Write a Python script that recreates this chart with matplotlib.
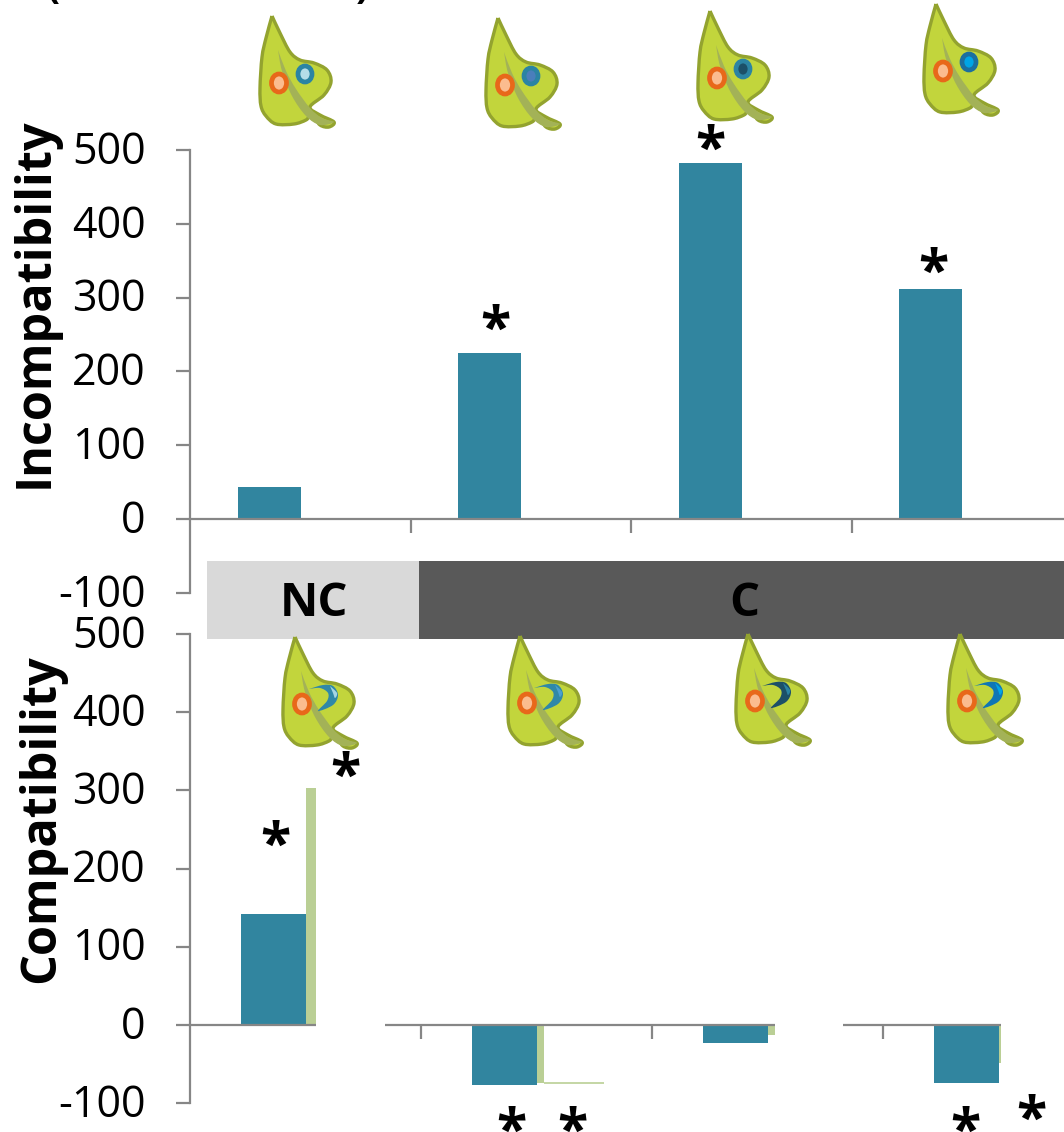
import matplotlib

matplotlib.use("Agg")
import matplotlib.pyplot as plt
from matplotlib.patches import Ellipse, PathPatch, Rectangle
from matplotlib.path import Path as MplPath
from matplotlib.transforms import ScaledTranslation

WIDTH = 1064
HEIGHT = 1132
DPI = 100

Y_TICKS = [-100, 0, 100, 200, 300, 400, 500]
INCOMPATIBILITY = [43, 225, 482, 312]
COMPATIBILITY_BLUE = [142, -77, -23, -75]
COMPATIBILITY_GREEN = [303, -75, -13, -49]
COMPATIBILITY_WHITE = [4, -75, 4, 4]
BAND_LABELS = ["NC", "C"]

TEAL = "#31859f"
PALE_GREEN = "#bacf95"
AXIS_GREY = "#868686"
FONT = "Open Sans"
TICK_SIZE = 31
LABEL_SIZE = 35

plt.rcParams["axes.unicode_minus"] = False


def px_axes(fig, left, top, right, bottom):
    return fig.add_axes(
        [left / WIDTH, 1 - bottom / HEIGHT, (right - left) / WIDTH, (bottom - top) / HEIGHT]
    )


def style_axes(fig, ax, cat_px):
    ax.set_xlim(0, (WIDTH - 190) / cat_px)
    ax.set_ylim(-100, 500)
    ax.set_yticks(Y_TICKS)
    ax.set_xticks([1, 2, 3])
    ax.set_xticklabels([])
    ax.patch.set_alpha(0)
    for side in ("top", "right"):
        ax.spines[side].set_visible(False)
    ax.spines["bottom"].set_position(("data", 0))
    for side in ("left", "bottom"):
        ax.spines[side].set_color(AXIS_GREY)
        ax.spines[side].set_linewidth(1.6)
    ax.tick_params(axis="y", length=10, width=1.6, color=AXIS_GREY, labelsize=TICK_SIZE, pad=22)
    ax.tick_params(axis="x", length=10, width=1.6, color=AXIS_GREY, direction="out")
    # labels sit a little above the tick marks
    nudge = ScaledTranslation(0, 3 / DPI, fig.dpi_scale_trans)
    for label in ax.get_yticklabels():
        label.set_fontfamily(FONT)
        label.set_transform(label.get_transform() + nudge)


def smooth_path(points):
    # catmull-rom through the points, ends stay sharp
    verts = [points[0]]
    codes = [MplPath.MOVETO]
    n = len(points)
    for i in range(n - 1):
        p0 = points[max(i - 1, 0)]
        p1 = points[i]
        p2 = points[i + 1]
        p3 = points[min(i + 2, n - 1)]
        verts.append((p1[0] + (p2[0] - p0[0]) / 6, p1[1] + (p2[1] - p0[1]) / 6))
        verts.append((p2[0] - (p3[0] - p1[0]) / 6, p2[1] - (p3[1] - p1[1]) / 6))
        verts.append(p2)
        codes += [MplPath.CURVE4] * 3
    return MplPath(verts, codes)


def shift(rel, tip_x, tip_y):
    return [(tip_x + x, tip_y + y) for x, y in rel]


LEAF_OUTLINE = [
    (0, 0), (-6, 22), (-10, 41), (-12, 72), (-11, 90), (-6, 100), (4, 108),
    (22, 108), (34, 104), (40, 99), (48, 109), (57, 111), (62, 106),
    (48, 99), (38, 91), (52, 79), (59, 66), (55, 54), (42, 47), (28, 44),
    (18, 36), (8, 17), (0, 0),
]
LEAF_VEIN = [
    (6, 34), (14, 55), (24, 73), (38, 92), (50, 102), (62, 106),
    (48, 109), (34, 100), (20, 80), (10, 55), (6, 34),
]
CRESCENT_OUTER = [
    (14, 52), (28, 48), (38, 49), (43, 58), (38, 68), (23, 74),
    (32, 64), (33, 56), (25, 51), (14, 52),
]
CRESCENT_INNER = [(35, 49), (42, 56), (40, 61), (38, 56), (35, 49)]


def draw_leaf(ov, tip_x, tip_y):
    ov.add_patch(PathPatch(smooth_path(shift(LEAF_OUTLINE, tip_x, tip_y)),
                           fc="#c2d53c", ec="#93a32f", lw=2.4, joinstyle="round"))
    ov.add_patch(PathPatch(smooth_path(shift(LEAF_VEIN, tip_x, tip_y)), fc="#a3b257", ec="none"))
    ov.add_patch(Ellipse((tip_x + 7, tip_y + 67), 15, 18, fc="#fbbc8f", ec="#e8681a", lw=3.4))


def main():
    fig = plt.figure(figsize=(WIDTH / DPI, HEIGHT / DPI), dpi=DPI, facecolor="white")

    # upper panel
    top_cat = 220.6
    ax_top = px_axes(fig, 190, 150, WIDTH, 593)
    style_axes(fig, ax_top, top_cat)
    for i, value in enumerate(INCOMPATIBILITY):
        ax_top.bar(i + 47.5 / top_cat, value, 63 / top_cat, align="edge", color=TEAL, zorder=1)
    ax_top.set_ylabel("Incompatibility", fontsize=LABEL_SIZE, fontweight="bold", fontfamily=FONT)
    ax_top.yaxis.set_label_coords(-0.149, 0.655)

    # lower panel
    low_cat = 231.0
    ax_low = px_axes(fig, 190, 634, WIDTH, 1103)
    style_axes(fig, ax_low, low_cat)
    green_w = [10, 7, 7, 2]
    white_w = [69, 60, 68, 80]
    for i in range(4):
        left = i + 51 / low_cat
        blue_w = 65 / low_cat
        ax_low.bar(left, COMPATIBILITY_BLUE[i], blue_w, align="edge", color=TEAL, zorder=1)
        left += blue_w
        ax_low.bar(left, COMPATIBILITY_GREEN[i], green_w[i] / low_cat, align="edge", color=PALE_GREEN, zorder=1)
        left += green_w[i] / low_cat
        value = COMPATIBILITY_WHITE[i]
        if value > 0:
            # white series sits on top of the axis line, so the line breaks here
            ax_low.bar(left, -value, white_w[i] / low_cat, align="edge", color="white", zorder=3)
            ax_low.bar(left, value, white_w[i] / low_cat, align="edge", color="white", zorder=3)
        else:
            ax_low.hlines(value, left, left + white_w[i] / low_cat, color=PALE_GREEN, lw=1.2, zorder=1)
    ax_low.set_ylabel("Compatibility", fontsize=LABEL_SIZE, fontweight="bold", fontfamily=FONT)
    ax_low.yaxis.set_label_coords(-0.142, 0.606)

    # overlay in pixel coordinates for band, icons and stars
    ov = fig.add_axes([0, 0, 1, 1], zorder=10)
    ov.set_xlim(0, WIDTH)
    ov.set_ylim(HEIGHT, 0)
    ov.axis("off")

    ov.add_patch(Rectangle((207, 561), 212, 78, fc="#d9d9d9", ec="none"))
    ov.add_patch(Rectangle((419, 561), 645, 78, fc="#595959", ec="none"))
    ov.text(314, 604, BAND_LABELS[0], ha="center", va="center", fontsize=34,
            fontweight="bold", fontfamily=FONT, color="black")
    ov.text(744, 604, BAND_LABELS[1], ha="center", va="center", fontsize=34,
            fontweight="bold", fontfamily=FONT, color="black")

    spots = [("#b5dde8", "#2b84a3"), ("#4a7ebb", "#2b84a3"), ("#1c5068", "#2b84a3"), ("#00a5e6", "#1c6f9f")]
    for (tip_x, tip_y), (fill, edge) in zip([(272, 16), (498, 18), (710, 11), (936, 4)], spots):
        draw_leaf(ov, tip_x, tip_y)
        ov.add_patch(Ellipse((tip_x + 33, tip_y + 58), 14, 16, fc=fill, ec=edge, lw=3.4))

    crescents = [("#2f88a8", "#a5d5e3"), ("#2f88a8", "#4a9fd0"), ("#1c5068", "#2b84a3"), ("#0f76b5", "#00a5e6")]
    for (tip_x, tip_y), (outer, inner) in zip([(295, 637), (520, 636), (748, 634), (960, 634)], crescents):
        draw_leaf(ov, tip_x, tip_y)
        ov.add_patch(PathPatch(smooth_path(shift(CRESCENT_OUTER, tip_x, tip_y)), fc=outer, ec="none"))
        ov.add_patch(PathPatch(smooth_path(shift(CRESCENT_INNER, tip_x, tip_y)), fc=inner, ec="none"))

    stars = [(710, 140), (495, 320), (933, 263), (345, 767), (275, 836),
             (511, 1122), (572, 1122), (965, 1122), (1031, 1110)]
    for x, y in stars:
        ov.text(x, y + 11, "*", ha="center", va="center", fontsize=40,
                fontweight="bold", fontfamily=FONT, color="black")

    # clipped title parentheses at the very top edge
    ov.text(53, -3, "(", ha="center", va="baseline", fontsize=28, fontweight="bold", fontfamily=FONT)
    ov.text(362, -3, ")", ha="center", va="baseline", fontsize=28, fontweight="bold", fontfamily=FONT)

    fig.savefig("out.png", dpi=DPI)
    plt.close(fig)


if __name__ == "__main__":
    main()
